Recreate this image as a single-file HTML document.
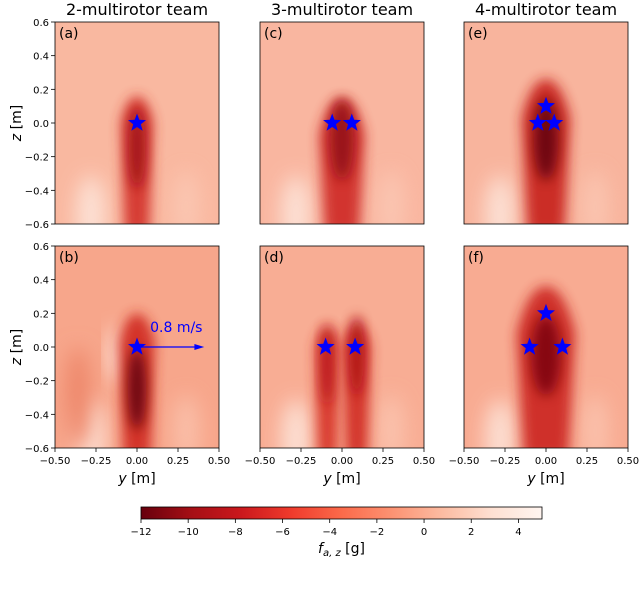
<!DOCTYPE html>
<html><head><meta charset="utf-8"><style>
body{margin:0;background:#fff;}
svg{display:block;font-family:"DejaVu Sans","Liberation Sans",sans-serif;}
</style></head><body>
<svg id="fig" width="640" height="592" viewBox="0 0 640 592" xmlns="http://www.w3.org/2000/svg">
<defs>
<filter id="blur5" x="-60%" y="-30%" width="220%" height="160%"><feGaussianBlur stdDeviation="6"/></filter>
<filter id="blur9" x="-60%" y="-60%" width="220%" height="220%"><feGaussianBlur stdDeviation="10"/></filter>
<linearGradient id="cbgrad" x1="0" x2="1" y1="0" y2="0">
<stop offset="0" stop-color="#67000d"/><stop offset="0.125" stop-color="#a50f15"/><stop offset="0.25" stop-color="#cb181d"/><stop offset="0.375" stop-color="#ef3b2c"/><stop offset="0.5" stop-color="#fb6a4a"/><stop offset="0.625" stop-color="#fc9272"/><stop offset="0.75" stop-color="#fcbba1"/><stop offset="0.875" stop-color="#fee0d2"/><stop offset="1" stop-color="#fff5f0"/>
</linearGradient>
</defs>
<g id="panels"></g>
</svg>
<script>
const NS="http://www.w3.org/2000/svg";
const svg=document.getElementById('fig');
const root=document.getElementById('panels');
// data
const panelLabels=["(a)","(b)","(c)","(d)","(e)","(f)"];
const teamTitles=["2-multirotor team","3-multirotor team","4-multirotor team"];
const starsY=[[0],[0],[-0.06,0.06],[-0.1,0.08],[-0.05,0,0.05],[-0.1,0,0.1]];
const starsZ=[[0],[0],[0,0],[0,0],[0,0.1,0],[0,0.2,0]];
// plumes: centre y, top z, half-width (m), colour, dark core z
const plumeY=[[0],[0],[0],[-0.09,0.09],[0],[0]];
const plumeTop=[[0.16],[0.2],[0.15],[0.12,0.14],[0.26],[0.36]];
const plumeW=[[0.1],[0.11],[0.14],[0.075,0.085],[0.15],[0.18]];
const plumeCol=[["#d3302a"],["#d02a22"],["#cf2a26"],["#d63226","#d02c24"],["#c8221e"],["#cc2822"]];
const coreZ=[[-0.15],[-0.25],[-0.1],[-0.1,-0.05],[-0.1],[-0.05]];
const coreCol=[["#9a0c13"],["#5a000b"],["#8e0a12"],["#b3141a","#a90f16"],["#5e000b"],["#7a0510"]];
const bgCol=["#f9b8a0","#f7a68b","#f9b6a0","#f8ad94","#f8b49d","#f8ab92"];
const cbTicks=[-12,-10,-8,-6,-4,-2,0,2,4];
const xTicks=[-0.5,-0.25,0,0.25,0.5];
const xTickLabels=["\u22120.50","\u22120.25","0.00","0.25","0.50"];
const zTicks=[0.6,0.4,0.2,0,-0.2,-0.4,-0.6];
const zTickLabels=["0.6","0.4","0.2","0.0","\u22120.2","\u22120.4","\u22120.6"];
const cbMin=-12,cbMax=5;

const lefts=[55,260,464], tops=[22,246], W=164, H=202;
function el(tag,attrs,parent){const e=document.createElementNS(NS,tag);for(const k in attrs)e.setAttribute(k,attrs[k]);(parent||root).appendChild(e);return e;}
function starPath(cx,cy,r){let d="";for(let i=0;i<10;i++){const a=-Math.PI/2+i*Math.PI/5;const rr=i%2?r*0.42:r;d+=(i?"L":"M")+(cx+rr*Math.cos(a)).toFixed(1)+","+(cy+rr*Math.sin(a)).toFixed(1);}return d+"Z";}

for(let p=0;p<6;p++){
  const col=Math.floor(p/2), row=p%2;
  const L=lefts[col], T=tops[row];
  const xs=y=>L+(y+0.5)*W;
  const zs=z=>T+(0.6-z)/1.2*H;
  const g=el('g',{});
  
  
  const cid='clip'+p;
  const cp=el('clipPath',{id:cid},svg.querySelector('defs'));
  el('rect',{x:L,y:T,width:W,height:H},cp);
  const hm=el('g',{'clip-path':'url(#'+cid+')'},g);
  
  
  el('rect',{x:L,y:T,width:W,height:H,fill:bgCol[p]},hm);
  el('ellipse',{cx:xs(-0.28),cy:zs(-0.55),rx:W*0.09,ry:H*0.2,fill:'#fde6dc',opacity:0.9,filter:'url(#blur9)'},hm);
  el('ellipse',{cx:xs(0.3),cy:zs(-0.5),rx:W*0.08,ry:H*0.18,fill:'#fcd0be',opacity:0.6,filter:'url(#blur9)'},hm);
  if(p===1){el('ellipse',{cx:xs(-0.13),cy:zs(-0.05),rx:W*0.04,ry:H*0.14,fill:'#fff1ea',filter:'url(#blur9)'},hm);
    el('ellipse',{cx:xs(-0.36),cy:zs(-0.3),rx:W*0.08,ry:H*0.25,fill:'#ee876b',filter:'url(#blur9)'},hm);}
  for(let i=0;i<plumeY[p].length;i++){
    const px=xs(plumeY[p][i]), top=zs(plumeTop[p][i]), w=plumeW[p][i]*W;
    const bot=T+H+10;
    const d=`M${px-w*0.75},${bot} L${px-w},${top+w*1.6} Q${px-w*0.6},${top} ${px},${top} Q${px+w*0.6},${top} ${px+w},${top+w*1.6} L${px+w*0.75},${bot} Z`;
    const path=el('path',{d:d,fill:plumeCol[p][i],opacity:0.92,filter:'url(#blur5)'},hm);
    
    
    const core=el('ellipse',{cx:px,cy:zs(coreZ[p][i]),rx:w*0.5,ry:H*0.2,fill:coreCol[p][i],opacity:0.85,filter:'url(#blur5)'},hm);
    
    
  }
  el('rect',{x:L,y:T,width:W,height:H,fill:'none',stroke:'#000','stroke-width':0.8},g);
  const lab=el('text',{x:L+4,y:T+16,'font-size':14,fill:'#000'},g);lab.textContent=panelLabels[p];
  
  for(let i=0;i<starsY[p].length;i++){
    const s=el('path',{d:starPath(xs(starsY[p][i]),zs(starsZ[p][i]),9.5),fill:'#0000ff'},g);
    
    
  }
  if(p===1){
    const ar=el('g',{},g);
    
    
    el('line',{x1:xs(0),y1:zs(0),x2:xs(0.36),y2:zs(0),stroke:'#0000ff','stroke-width':1.2},ar);
    el('path',{d:`M${xs(0.41)},${zs(0)} L${xs(0.35)},${zs(0)-3} L${xs(0.35)},${zs(0)+3}Z`,fill:'#0000ff'},ar);
    const t=el('text',{x:xs(0.08),y:zs(0)-15,'font-size':14,fill:'#0000ff'},ar);t.textContent='0.8 m/s';
  }
  if(col===0){
    for(let i=0;i<zTicks.length;i++){
      const yy=zs(zTicks[i]);
      el('line',{x1:L-4,x2:L,y1:yy,y2:yy,stroke:'#000','stroke-width':0.8},g);
      const t=el('text',{x:L-6,y:yy+4,'font-size':10,'text-anchor':'end'},g);t.textContent=zTickLabels[i];
      
    }
    const yl=el('text',{x:0,y:0,'font-size':14,'text-anchor':'middle',transform:`translate(${L-34},${T+H/2}) rotate(-90)`},g);
    yl.innerHTML='<tspan font-style="italic">z</tspan> [m]';
    
  }
  if(row===0){
    const tt=el('text',{x:L+W/2,y:15,'font-size':16,'text-anchor':'middle'},g);tt.textContent=teamTitles[col];
    
  } else {
    for(let i=0;i<xTicks.length;i++){
      const xx=xs(xTicks[i]);
      el('line',{x1:xx,x2:xx,y1:T+H,y2:T+H+4,stroke:'#000','stroke-width':0.8},g);
      const t=el('text',{x:xx,y:T+H+16,'font-size':10,'text-anchor':'middle'},g);t.textContent=xTickLabels[i];
      
    }
    const xl=el('text',{x:L+W/2,y:T+H+35,'font-size':14,'text-anchor':'middle'},g);
    xl.innerHTML='<tspan font-style="italic">y</tspan> [m]';
    
  }
}
const cb=el('g',{});


const cbL=141,cbR=542,cbT=507,cbB=519;
const cbx=v=>cbL+(v-cbMin)/(cbMax-cbMin)*(cbR-cbL);
el('rect',{x:cbL,y:cbT,width:cbR-cbL,height:cbB-cbT,fill:'url(#cbgrad)',stroke:'#000','stroke-width':0.8},cb);
for(const v of cbTicks){
  el('line',{x1:cbx(v),x2:cbx(v),y1:cbB,y2:cbB+4,stroke:'#000','stroke-width':0.8},cb);
  const t=el('text',{x:cbx(v),y:cbB+16,'font-size':10,'text-anchor':'middle'},cb);
  t.textContent=v<0?'\u2212'+(-v):String(v);
  
}
const cl=el('text',{x:(cbL+cbR)/2,y:553,'font-size':14,'text-anchor':'middle'},cb);
cl.innerHTML='<tspan font-style="italic">f</tspan><tspan font-style="italic" font-size="10" dy="3">a, z</tspan><tspan dy="-3"> [g]</tspan>';

</script>
</body></html>
